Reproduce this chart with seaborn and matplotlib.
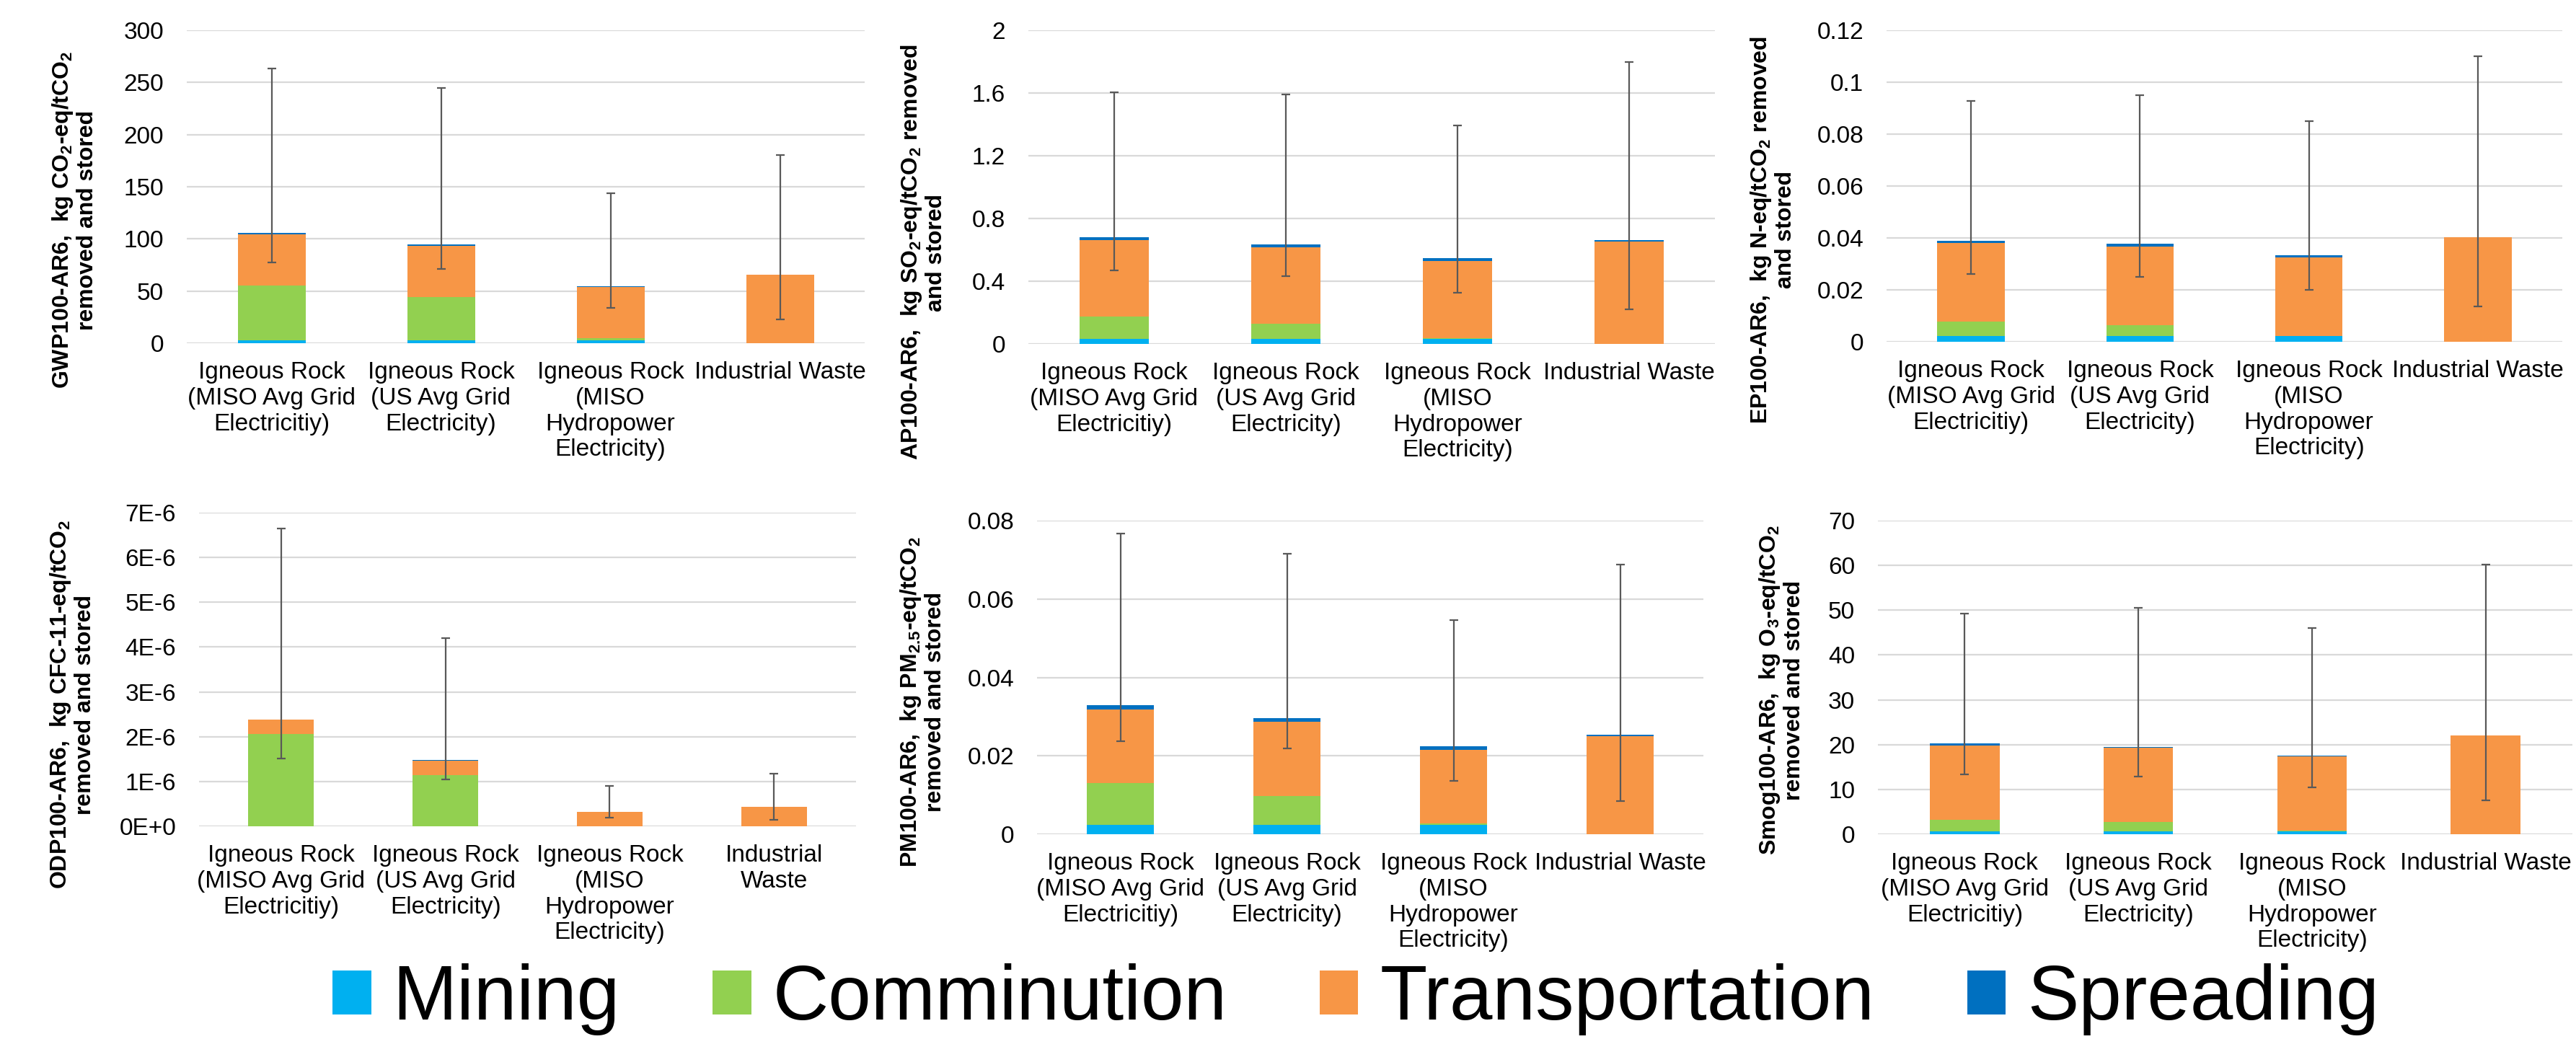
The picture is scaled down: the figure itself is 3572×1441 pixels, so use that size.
import matplotlib
matplotlib.use("Agg")
import matplotlib.pyplot as plt
import seaborn as sns
import numpy as np
import pandas as pd
from matplotlib.patches import Patch
from matplotlib.ticker import FuncFormatter, MultipleLocator

# ---------------- data ----------------
cats = ["Igneous Rock\n(MISO Avg Grid\nElectricitiy)",
        "Igneous Rock\n(US Avg Grid\nElectricity)",
        "Igneous Rock\n(MISO\nHydropower\nElectricity)",
        "Industrial Waste"]
cats_odp = cats[:3] + ["Industrial\nWaste"]
stages = ["Mining", "Comminution", "Transportation", "Spreading"]
colors = ["#00B0F0", "#92D050", "#F79646", "#0070C0"]

gwp_mining = [2.7, 2.7, 3.0, 0.0]
gwp_comm = [52.8, 41.6, 1.5, 0.0]
gwp_trans = [49.1, 48.9, 49.5, 65.7]
gwp_spread = [1.4, 1.2, 0.6, 0.2]
gwp_low = [77.5, 71.4, 33.8, 22.6]
gwp_high = [263.5, 244.8, 143.5, 180.3]

ap_mining = [0.034, 0.034, 0.034, 0.0]
ap_comm = [0.141, 0.093, 0.002, 0.0]
ap_trans = [0.488, 0.490, 0.495, 0.655]
ap_spread = [0.016, 0.016, 0.014, 0.005]
ap_low = [0.470, 0.434, 0.326, 0.221]
ap_high = [1.606, 1.592, 1.391, 1.797]

ep_mining = [0.0021, 0.0021, 0.0021, 0.0]
ep_comm = [0.0057, 0.0043, 0.0001, 0.0]
ep_trans = [0.0303, 0.0303, 0.0302, 0.0402]
ep_spread = [0.0009, 0.0010, 0.0010, 0.0002]
ep_low = [0.0262, 0.0251, 0.0199, 0.0137]
ep_high = [0.0929, 0.0951, 0.0850, 0.110]

odp_mining = [0.0, 0.0, 0.0, 0.0]
odp_comm = [2.054e-6, 1.145e-6, 0.0, 0.0]
odp_trans = [0.326e-6, 0.325e-6, 0.32e-6, 0.43e-6]
odp_spread = [0.005e-6, 0.005e-6, 0.005e-6, 0.005e-6]
odp_low = [1.52e-6, 1.04e-6, 0.19e-6, 0.14e-6]
odp_high = [6.64e-6, 4.20e-6, 0.90e-6, 1.18e-6]

pm_mining = [0.0024, 0.0024, 0.0024, 0.0]
pm_comm = [0.0106, 0.0073, 0.0003, 0.0]
pm_trans = [0.0189, 0.0189, 0.0189, 0.0251]
pm_spread = [0.0010, 0.0010, 0.0008, 0.0003]
pm_low = [0.0237, 0.0218, 0.0136, 0.00855]
pm_high = [0.0767, 0.0715, 0.0547, 0.0688]

smog_mining = [0.7, 0.7, 0.7, 0.0]
smog_comm = [2.5, 2.0, 0.13, 0.0]
smog_trans = [16.66, 16.6, 16.57, 22.0]
smog_spread = [0.34, 0.2, 0.2, 0.1]
smog_low = [13.4, 12.9, 10.4, 7.5]
smog_high = [49.2, 50.6, 46.1, 60.2]

ylabels = [
    "GWP100-AR6,  kg CO$_2$-eq/tCO$_2$\nremoved and stored",
    "AP100-AR6,  kg SO$_2$-eq/tCO$_2$ removed\nand stored",
    "EP100-AR6,  kg N-eq/tCO$_2$ removed\nand stored",
    "ODP100-AR6,  kg CFC-11-eq/tCO$_2$\nremoved and stored",
    "PM100-AR6,  kg PM$_{2.5}$-eq/tCO$_2$\nremoved and stored",
    "Smog100-AR6,  kg O$_3$-eq/tCO$_2$\nremoved and stored",
]

# ---------------- style ----------------
sns.set_theme(style="white")
plt.rcParams["font.family"] = ["Liberation Sans", "DejaVu Sans"]
plt.rcParams["text.color"] = "black"
plt.rcParams["mathtext.fontset"] = "custom"
plt.rcParams["mathtext.rm"] = "Liberation Sans:bold"
plt.rcParams["mathtext.bf"] = "Liberation Sans:bold"
plt.rcParams["mathtext.it"] = "Liberation Sans:bold"
plt.rcParams["mathtext.default"] = "bf"

W, H = 3572, 1441
fig = plt.figure(figsize=(W / 100, H / 100), dpi=100)

panels = [
    dict(layers=[gwp_mining, gwp_comm, gwp_trans, gwp_spread], low=gwp_low, high=gwp_high,
         ymax=300, step=50, box=(259, 1199, 42, 476), lab=(103, 305), cats=cats, fmt="g"),
    dict(layers=[ap_mining, ap_comm, ap_trans, ap_spread], low=ap_low, high=ap_high,
         ymax=2, step=0.4, box=(1426, 2378, 42, 477), lab=(1280, 350), cats=cats, fmt="g"),
    dict(layers=[ep_mining, ep_comm, ep_trans, ep_spread], low=ep_low, high=ep_high,
         ymax=0.12, step=0.02, box=(2616, 3553, 42, 474), lab=(2458, 319), cats=cats, fmt="g"),
    dict(layers=[odp_mining, odp_comm, odp_trans, odp_spread], low=odp_low, high=odp_high,
         ymax=7e-6, step=1e-6, box=(276, 1187, 711, 1146), lab=(100, 977), cats=cats_odp, fmt="E"),
    dict(layers=[pm_mining, pm_comm, pm_trans, pm_spread], low=pm_low, high=pm_high,
         ymax=0.08, step=0.02, box=(1438, 2362, 722, 1157), lab=(1279, 974), cats=cats, fmt="g"),
    dict(layers=[smog_mining, smog_comm, smog_trans, smog_spread], low=smog_low, high=smog_high,
         ymax=70, step=10, box=(2604, 3567, 722, 1157), lab=(2470, 957), cats=cats, fmt="g"),
]


def fmt_g(v, pos):
    return f"{round(v, 6):g}"


def fmt_e(v, pos):
    n = int(round(v * 1e6))
    return "0E+0" if n == 0 else f"{n}E-6"


for i, p in enumerate(panels):
    l, r, t, b = p["box"]
    ax = fig.add_axes([l / W, 1 - b / H, (r - l) / W, (b - t) / H])
    layers = np.array(p["layers"], dtype=float)
    cum = np.cumsum(layers, axis=0)
    total = cum[-1]
    # draw cumulative heights from top stage down so lower stages overlay
    for k in range(3, -1, -1):
        df = pd.DataFrame({"cat": p["cats"], "val": cum[k]})
        sns.barplot(data=df, x="cat", y="val", order=p["cats"], color=colors[k],
                    saturation=1, width=0.4, errorbar=None, ax=ax, zorder=3,
                    linewidth=0)
    xs = np.arange(4)
    yerr = np.vstack([total - np.array(p["low"]), np.array(p["high"]) - total])
    ax.errorbar(xs, total, yerr=yerr, fmt="none", ecolor="#595959", elinewidth=1.6,
                capsize=4, capthick=1.6, zorder=5)
    ax.set_xlim(-0.5, 3.5)
    ax.set_ylim(0, p["ymax"])
    ax.yaxis.set_major_locator(MultipleLocator(p["step"]))
    ax.yaxis.set_major_formatter(FuncFormatter(fmt_e if p["fmt"] == "E" else fmt_g))
    ax.grid(axis="y", color="#D9D9D9", linewidth=1.6, zorder=0)
    ax.set_axisbelow(True)
    for s in ax.spines.values():
        s.set_visible(False)
    ax.tick_params(axis="both", length=0, labelsize=24, colors="black",
                   labelcolor="black")
    ax.tick_params(axis="y", pad=23)
    ax.tick_params(axis="x", pad=18)
    for lbl in ax.get_xticklabels():
        lbl.set_linespacing(1.2)
        lbl.set_va("top")
    ax.set_xlabel("")
    ax.set_ylabel("")
    fig.text(p["lab"][0] / W, 1 - p["lab"][1] / H, ylabels[i], rotation=90,
             ha="center", va="center", multialignment="center", fontsize=23,
             fontweight="bold", linespacing=1.05, color="black")

handles = [Patch(facecolor=c, edgecolor="none") for c in colors]
fig.legend(handles, stages, loc="center", bbox_to_anchor=(1880 / W, 1 - 1386 / H),
           ncol=4, frameon=False, fontsize=77, handlelength=0.5, handleheight=0.5,
           handletextpad=0.28, columnspacing=1.2, borderpad=0, borderaxespad=0,
           labelcolor="black")

fig.savefig("out.png", dpi=100)
